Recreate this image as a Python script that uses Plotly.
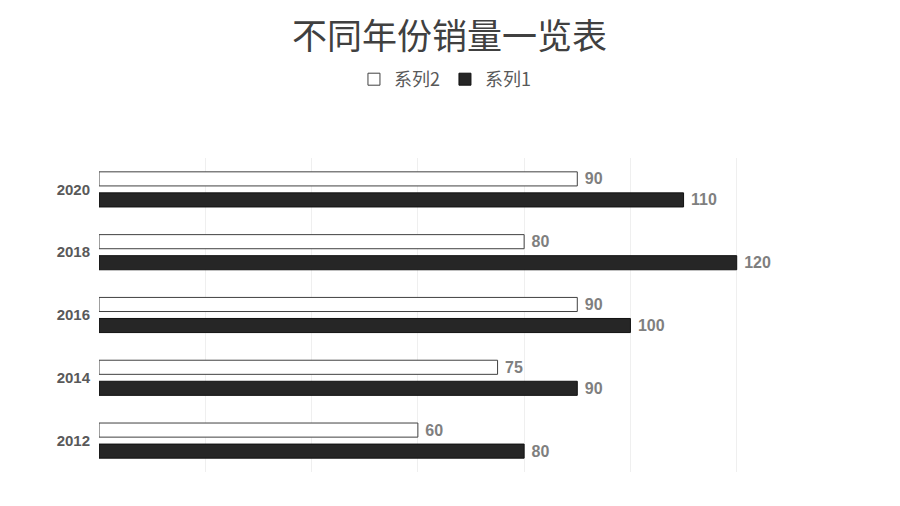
import plotly.graph_objects as go

# Datos del gráfico
anios = ["2012", "2014", "2016", "2018", "2020"]
serie1 = [80, 90, 100, 120, 110]
serie2 = [60, 75, 90, 80, 90]

fuente_num = dict(family="Liberation Sans, Arial", size=16, color="#7f7f7f", weight="bold")

fig = go.Figure()

# 系列1 primero para que quede abajo dentro de cada grupo
fig.add_trace(go.Bar(
    y=anios, x=serie1, orientation="h", name="系列1",
    marker=dict(color="#262626", line=dict(color="#111111", width=1)),
    texttemplate=" %{x}", textposition="outside", constraintext="none",
    textfont=fuente_num, legendrank=2,
))
fig.add_trace(go.Bar(
    y=anios, x=serie2, orientation="h", name="系列2",
    marker=dict(color="#ffffff", line=dict(color="#404040", width=1)),
    texttemplate=" %{x}", textposition="outside", constraintext="none",
    textfont=fuente_num, legendrank=1,
))

# la página tiene 8px de margen, por eso el tamaño es 892x498
fig.update_layout(
    width=892, height=498,
    barmode="group", bargap=0.33, bargroupgap=0.33,
    paper_bgcolor="white", plot_bgcolor="white",
    margin=dict(l=91, r=57, t=150, b=34),
    title=dict(text="不同年份销量一览表", x=0.495, xanchor="center", y=0.942, yanchor="middle",
               font=dict(family="Noto Sans CJK SC", size=35, color="#404040")),
    legend=dict(orientation="h", x=0.465, xanchor="center", y=1.25, yanchor="middle",
                font=dict(family="Noto Sans CJK SC", size=18, color="#595959")),
    showlegend=True,
)
fig.update_xaxes(range=[0, 140], dtick=20, showticklabels=False, showgrid=True,
                 gridcolor="#efefef", zeroline=False, showline=False)
fig.update_yaxes(showgrid=False, showline=False, zeroline=False, ticks="",
                 tickfont=dict(family="Liberation Sans, Arial", size=15, color="#595959", weight="bold"),
                 ticklabelstandoff=8)
fig.update_traces(cliponaxis=False)

fig.write_html("out.html")
